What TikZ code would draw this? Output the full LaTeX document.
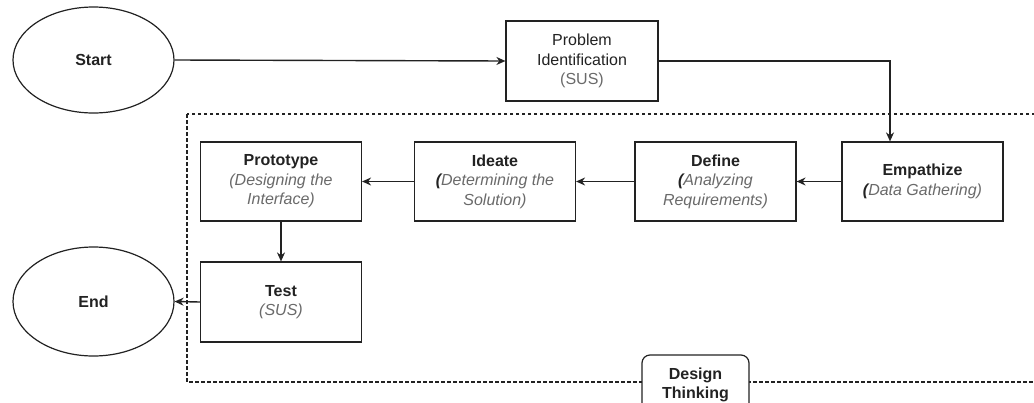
\documentclass[tikz,border=0pt]{standalone}
\usepackage{fontspec}
\setmainfont{Liberation Sans}
\usetikzlibrary{shapes.geometric,arrows.meta}
\definecolor{ink}{HTML}{222222}
\definecolor{sub}{HTML}{6A6A6A}
\tikzset{
  base/.style={draw=ink, line width=1.2pt, text=ink, align=center, inner sep=0pt,
    font=\fontsize{16}{19.5}\selectfont},
  stepbox/.style={base, rectangle, minimum width=161pt, minimum height=79pt},
  term/.style={base, ellipse, minimum width=161pt, minimum height=106pt},
  group/.style={base, rectangle, rounded corners=8pt, fill=white, minimum width=107pt, minimum height=60pt},
  conn/.style={draw=ink, line width=1.4pt, -{Stealth[length=9pt,width=8pt]}},
  frame/.style={draw=ink, line width=1.1pt, dash pattern=on 3.5pt off 2.5pt},
}
\newcommand{\subt}[1]{{\color{sub}\itshape #1}}
\begin{document}
\begin{tikzpicture}[x=1pt,y=-1pt]
\clip (0,0) rectangle (1034,402);
\fill[white] (0,0) rectangle (1034,402);
% dashed group frame
\draw[frame] (187,114) rectangle (1045,382);
% nodes
\node[term] (start) at (93.5,60) {\textbf{Start}};
\node[stepbox, minimum width=152pt, minimum height=80pt] (pi) at (582,61)
  {Problem\\Identification\\{\color{sub}(SUS)}};
\node[stepbox] (emp) at (922.5,181.5)
  {\textbf{Empathize}\\{\itshape\textbf{(}}\subt{Data Gathering)}};
\node[stepbox] (def) at (715.5,181.5)
  {\textbf{Define}\\{\itshape\textbf{(}}\subt{Analyzing}\\\subt{Requirements)}};
\node[stepbox] (ide) at (495,181.5)
  {\textbf{Ideate}\\{\itshape\textbf{(}}\subt{Determining the}\\\subt{Solution)}};
\node[stepbox] (pro) at (281,181.5)
  {\textbf{Prototype}\\\subt{(Designing the}\\\subt{Interface)}};
\node[stepbox, minimum height=80pt] (test) at (281,302)
  {\textbf{Test}\\\subt{(SUS)}};
\node[term, minimum height=109pt] (end) at (93.5,301.5) {\textbf{End}};
\node[group] (dt) at (695.5,385) {\textbf{Design}\\\textbf{Thinking}};
% connectors
\coordinate (k) at (890,61);
\draw[conn] (start.east) -- (pi.west);
\draw[conn] (pi.east) -- (k) -- (k |- emp.north);
\draw[conn] (emp.west) -- (def.east);
\draw[conn] (def.west) -- (ide.east);
\draw[conn] (ide.west) -- (pro.east);
\draw[conn] (pro.south) -- (test.north);
\draw[conn] (test.west) -- (end.east);
\end{tikzpicture}
\end{document}
